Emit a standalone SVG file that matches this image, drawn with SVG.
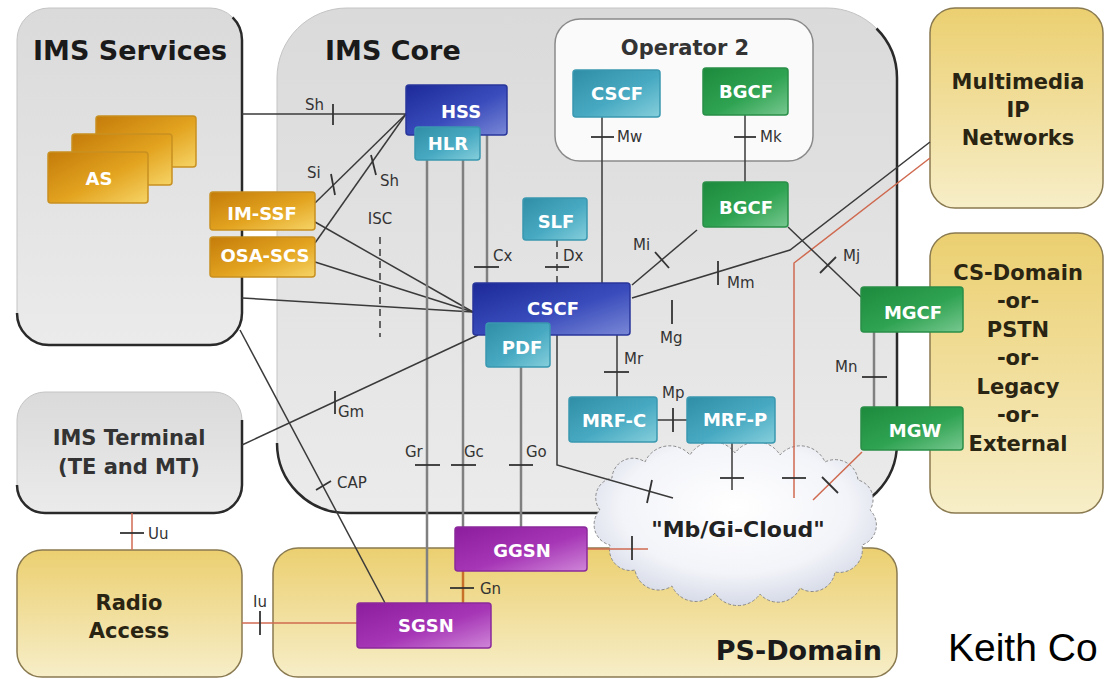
<svg xmlns="http://www.w3.org/2000/svg" width="1107" height="679" viewBox="0 0 1107 679">
<defs>
<linearGradient id="gGray" x1="0" y1="0" x2="0" y2="1"><stop offset="0" stop-color="#dadada"/><stop offset="1" stop-color="#ebebeb"/></linearGradient>
<linearGradient id="gYel" x1="0" y1="0" x2="0" y2="1"><stop offset="0" stop-color="#ebcf70"/><stop offset="1" stop-color="#f7eec8"/></linearGradient>
<linearGradient id="gBlue" x1="0" y1="0" x2="1" y2="1"><stop offset="0" stop-color="#1c2a98"/><stop offset="0.55" stop-color="#3a4cbc"/><stop offset="1" stop-color="#7a88d6"/></linearGradient>
<linearGradient id="gTeal" x1="0" y1="0" x2="1" y2="1"><stop offset="0" stop-color="#2f8ea6"/><stop offset="0.55" stop-color="#48aac2"/><stop offset="1" stop-color="#86cfdc"/></linearGradient>
<linearGradient id="gGreen" x1="0" y1="0" x2="1" y2="1"><stop offset="0" stop-color="#1d8a3c"/><stop offset="0.55" stop-color="#2fa352"/><stop offset="1" stop-color="#78c890"/></linearGradient>
<linearGradient id="gPurp" x1="0" y1="0" x2="1" y2="1"><stop offset="0" stop-color="#8c1d9c"/><stop offset="0.55" stop-color="#a636b6"/><stop offset="1" stop-color="#cf86d8"/></linearGradient>
<linearGradient id="gGold" x1="0" y1="0" x2="1" y2="1"><stop offset="0" stop-color="#c47c0a"/><stop offset="0.55" stop-color="#e3a420"/><stop offset="1" stop-color="#f6d466"/></linearGradient>
<radialGradient id="gCloud" cx="0.5" cy="0.4" r="0.62"><stop offset="0" stop-color="#ffffff"/><stop offset="0.65" stop-color="#f3f4f9"/><stop offset="1" stop-color="#d3d8e6"/></radialGradient>
<style>
.title{font-family:"DejaVu Sans",sans-serif;font-weight:bold;font-size:27px;fill:#1a1a1a}
.bt{font-family:"DejaVu Sans",sans-serif;font-weight:bold;font-size:21px;fill:#2a2412;text-anchor:middle}
.gt{font-family:"DejaVu Sans",sans-serif;font-weight:bold;font-size:21px;fill:#333;text-anchor:middle}
.nt{font-family:"DejaVu Sans",sans-serif;font-weight:bold;font-size:18px;fill:#fff;text-anchor:middle}
.lbl{font-family:"DejaVu Sans",sans-serif;font-size:15px;fill:#333}
.box{fill:url(#gGray);stroke:#c4c4c4;stroke-width:1}
.ybox{fill:url(#gYel);stroke:#8a7a50;stroke-width:1.5}
.edge{fill:none;stroke:#2a2a2a;stroke-width:2.5}
.blue{fill:url(#gBlue);stroke:#28369a;stroke-width:1.5}
.teal{fill:url(#gTeal);stroke:#3a98b0;stroke-width:1.5}
.green{fill:url(#gGreen);stroke:#2a8f48;stroke-width:1.5}
.purp{fill:url(#gPurp);stroke:#8a2a9a;stroke-width:1.5}
.gold{fill:url(#gGold);stroke:#c89020;stroke-width:1.5}
.ln{stroke:#3a3a3a;stroke-width:1.5;fill:none}
.gl{stroke:#808080;stroke-width:2.5;fill:none}
.rl{stroke:#cf6a50;stroke-width:1.5;fill:none}
.ol{stroke:#c8702a;stroke-width:2.5;fill:none}
.dl{stroke:#3a3a3a;stroke-width:1.5;fill:none;stroke-dasharray:7,5}
.tk{stroke:#333;stroke-width:1.8;fill:none}
</style>
</defs>
<rect x="0" y="0" width="1107" height="679" fill="#ffffff"/>

<g id="ims-services">
<rect class="box" x="17" y="8" width="225" height="337" rx="32"/>
<path class="edge" d="M232.6,17.4 A32,32 0 0 1 242,40 L242,313 A32,32 0 0 1 210,345 L49,345 A32,32 0 0 1 17,313"/>
<text class="title" x="33" y="60">IMS Services</text>
</g>
<g id="ims-terminal">
<rect class="box" x="17" y="392" width="225" height="121" rx="28"/>
<path class="edge" d="M242,420 L242,485 A28,28 0 0 1 214,513 L45,513 A28,28 0 0 1 17,485"/>
<text class="gt" x="129" y="445">IMS Terminal</text>
<text class="gt" x="129" y="474">(TE and MT)</text>
</g>
<g id="radio-access">
<rect class="ybox" x="17" y="550" width="225" height="127" rx="25"/>
<text class="bt" x="129" y="610">Radio</text>
<text class="bt" x="129" y="638">Access</text>
</g>
<g id="ps-domain">
<rect class="ybox" x="273" y="548" width="624" height="129" rx="25"/>
<text class="title" x="882" y="660" text-anchor="end">PS-Domain</text>
</g>
<g id="multimedia-ip">
<rect class="ybox" x="930" y="8" width="173" height="200" rx="25"/>
<text class="bt" x="1018" y="89">Multimedia</text>
<text class="bt" x="1018" y="117">IP</text>
<text class="bt" x="1018" y="145">Networks</text>
</g>
<g id="cs-domain">
<rect class="ybox" x="930" y="233" width="173" height="280" rx="25"/>
<text class="bt" x="1018" y="280">CS-Domain</text>
<text class="bt" x="1018" y="308">-or-</text>
<text class="bt" x="1018" y="337">PSTN</text>
<text class="bt" x="1018" y="365">-or-</text>
<text class="bt" x="1018" y="394">Legacy</text>
<text class="bt" x="1018" y="422">-or-</text>
<text class="bt" x="1018" y="451">External</text>
</g>
<g id="ims-core">
<rect class="box" x="277" y="8" width="620" height="505" rx="70"/>
<path class="edge" d="M876.5,28.5 A70,70 0 0 1 897,78 L897,443 A70,70 0 0 1 827,513 L347,513 A70,70 0 0 1 277,443"/>
<text class="title" x="325" y="60">IMS Core</text>
</g>
<g id="operator-2">
<rect x="555" y="19" width="258" height="142" rx="25" fill="#fafafa" stroke="#8a8a8a" stroke-width="1.5"/>
<text class="gt" x="685" y="55">Operator 2</text>
</g>
<g id="cloud">
<path fill="url(#gCloud)" stroke="#8a8a8a" stroke-width="1" stroke-dasharray="3,2" d="M600,510 A20,20 0 0 1 612,478 A21,21 0 0 1 645,462 A27,27 0 0 1 690,455 A27,27 0 0 1 735,453 A27,27 0 0 1 780,455 A27,27 0 0 1 825,462 A23,23 0 0 1 858,480 A20,20 0 0 1 870,510 A21,21 0 0 1 862,545 A23,23 0 0 1 835,572 A23,23 0 0 1 800,588 A24,24 0 0 1 760,594 A27,27 0 0 1 715,593 A26,26 0 0 1 672,586 A24,24 0 0 1 635,570 A21,21 0 0 1 610,545 A21,21 0 0 1 600,510 Z"/>
<text x="738" y="537" font-family="DejaVu Sans, sans-serif" font-weight="bold" font-size="22" fill="#222" text-anchor="middle">"Mb/Gi-Cloud"</text>
</g>

<g id="connectors">
<path class="ln" d="M242,114 L406,114"/>
<path class="tk" d="M333,104 L333,125"/>
<text class="lbl" x="305" y="110">Sh</text>
<path class="ln" d="M315,203 L406,114"/>
<path class="tk" d="M331,174 L335,195"/>
<text class="lbl" x="307" y="178">Si</text>
<path class="ln" d="M315,243 L406,114"/>
<path class="tk" d="M371,155 L376,175"/>
<text class="lbl" x="380" y="186">Sh</text>
<path class="ln" d="M315,222 L473,312"/>
<path class="ln" d="M315,262 L473,312"/>
<path class="ln" d="M242,298 L473,312"/>
<path class="dl" d="M380,237 L380,337"/>
<text class="lbl" x="380" y="224" text-anchor="middle">ISC</text>
<path class="gl" d="M427,160 L427,603"/>
<path class="tk" d="M415,465 L440,465"/>
<text class="lbl" x="405" y="457">Gr</text>
<path class="gl" d="M463,160 L463,527"/>
<path class="tk" d="M451,465 L476,465"/>
<text class="lbl" x="464" y="457">Gc</text>
<path class="gl" d="M487,135 L487,283"/>
<path class="tk" d="M474,267 L499,267"/>
<text class="lbl" x="493" y="261">Cx</text>
<path class="gl" d="M521,367 L521,527"/>
<path class="tk" d="M509,465 L533,465"/>
<text class="lbl" x="526" y="457">Go</text>
<path class="dl" d="M557,240 L557,283" stroke-dasharray="5,3"/>
<path class="tk" d="M545,267 L569,267"/>
<text class="lbl" x="563" y="261">Dx</text>
<path class="ln" d="M557,335 L557,465 L673,498"/>
<path class="tk" d="M652,480 L647,503"/>
<path class="ln" d="M602,117 L602,283"/>
<path class="tk" d="M591,137 L614,137"/>
<text class="lbl" x="617" y="142">Mw</text>
<path class="ln" d="M745,115 L745,182"/>
<path class="tk" d="M734,137 L756,137"/>
<text class="lbl" x="760" y="142">Mk</text>
<path class="ln" d="M632,285 L697,230"/>
<path class="tk" d="M655,252 L669,268"/>
<text class="lbl" x="633" y="250">Mi</text>
<path class="ln" d="M632,298 L790,250 L930,142"/>
<path class="tk" d="M718,261 L718,285"/>
<text class="lbl" x="727" y="288">Mm</text>
<path class="rl" d="M794,498 L794,263 L930,158"/>
<path class="tk" d="M782,478 L806,478" stroke="#7a4030"/>
<path class="ln" d="M788,227 L861,297"/>
<path class="tk" d="M836,257 L820,273"/>
<text class="lbl" x="843" y="261">Mj</text>
<path class="tk" d="M672,300 L672,324"/>
<text class="lbl" x="660" y="343">Mg</text>
<path class="ln" d="M617,335 L617,397"/>
<path class="tk" d="M604,372 L629,372"/>
<text class="lbl" x="624" y="364">Mr</text>
<path class="ln" d="M657,420 L687,420"/>
<path class="tk" d="M673,408 L673,432"/>
<text class="lbl" x="662" y="398">Mp</text>
<path class="ln" d="M732,443 L732,490"/>
<path class="tk" d="M720,478 L744,478"/>
<path class="rl" d="M813,500 L862,452"/>
<path class="tk" d="M822,477 L838,493"/>
<path class="gl" d="M874,332 L874,407"/>
<path class="tk" d="M862,377 L887,377"/>
<text class="lbl" x="835" y="372">Mn</text>
<path class="ln" d="M242,445 L478,335"/>
<path class="tk" d="M335,391 L335,414"/>
<text class="lbl" x="338" y="417">Gm</text>
<path class="ln" d="M240,330 L385,603"/>
<path class="tk" d="M316,490 L331,481"/>
<text class="lbl" x="337" y="488">CAP</text>
<path class="rl" d="M132,513 L132,550"/>
<path class="tk" d="M120,533 L144,533"/>
<text class="lbl" x="148" y="539">Uu</text>
<path class="rl" d="M242,623 L357,623"/>
<path class="tk" d="M260,611 L260,635"/>
<text class="lbl" x="253" y="607">Iu</text>
<path class="ol" d="M463,571 L463,603"/>
<path class="tk" d="M450,588 L474,588"/>
<text class="lbl" x="480" y="594">Gn</text>
<path class="rl" d="M587,549 L648,549" stroke-width="2"/>
<path class="tk" d="M632,536 L632,560"/>
</g>

<g id="as">
<rect class="gold" x="96" y="116" width="100" height="51" rx="3"/>
<rect class="gold" x="72" y="134" width="100" height="51" rx="3"/>
<rect class="gold" x="48" y="152" width="100" height="51" rx="3"/>
<text class="nt" x="99" y="185">AS</text>
</g>
<g id="im-ssf">
<rect class="gold" x="210" y="192" width="105" height="38" rx="3"/>
<text class="nt" x="262" y="220">IM-SSF</text>
</g>
<g id="osa-scs">
<rect class="gold" x="210" y="237" width="105" height="40" rx="3"/>
<text class="nt" x="265" y="262">OSA-SCS</text>
</g>
<g id="hss">
<rect class="blue" x="406" y="85" width="101" height="50" rx="3"/>
<text class="nt" x="461" y="118">HSS</text>
</g>
<g id="hlr">
<rect class="teal" x="415" y="127" width="65" height="33" rx="3"/>
<text class="nt" x="448" y="150">HLR</text>
</g>
<g id="op2-cscf">
<rect class="teal" x="573" y="70" width="87" height="47" rx="3"/>
<text class="nt" x="617" y="100">CSCF</text>
</g>
<g id="op2-bgcf">
<rect class="green" x="703" y="68" width="85" height="47" rx="3"/>
<text class="nt" x="746" y="98">BGCF</text>
</g>
<g id="bgcf">
<rect class="green" x="703" y="182" width="85" height="45" rx="3"/>
<text class="nt" x="746" y="214">BGCF</text>
</g>
<g id="slf">
<rect class="teal" x="523" y="198" width="64" height="42" rx="3"/>
<text class="nt" x="556" y="228">SLF</text>
</g>
<g id="cscf">
<rect class="blue" x="473" y="283" width="157" height="52" rx="3"/>
<text class="nt" x="553" y="315">CSCF</text>
</g>
<g id="pdf">
<rect class="teal" x="486" y="323" width="64" height="44" rx="3"/>
<text class="nt" x="522" y="354">PDF</text>
</g>
<g id="mrf-c">
<rect class="teal" x="569" y="397" width="88" height="45" rx="3"/>
<text class="nt" x="614" y="427">MRF-C</text>
</g>
<g id="mrf-p">
<rect class="teal" x="687" y="397" width="88" height="46" rx="3"/>
<text class="nt" x="735" y="426">MRF-P</text>
</g>
<g id="mgcf">
<rect class="green" x="861" y="287" width="102" height="45" rx="3"/>
<text class="nt" x="913" y="319">MGCF</text>
</g>
<g id="mgw">
<rect class="green" x="861" y="407" width="102" height="43" rx="3"/>
<text class="nt" x="915" y="437">MGW</text>
</g>
<g id="ggsn">
<rect class="purp" x="455" y="527" width="132" height="44" rx="3"/>
<text class="nt" x="522" y="557">GGSN</text>
</g>
<g id="sgsn">
<rect class="purp" x="357" y="603" width="134" height="45" rx="3"/>
<text class="nt" x="426" y="632">SGSN</text>
</g>

<text x="948" y="661" font-family="Liberation Sans, Arial, sans-serif" font-size="39" fill="#000">Keith Co</text>
</svg>
